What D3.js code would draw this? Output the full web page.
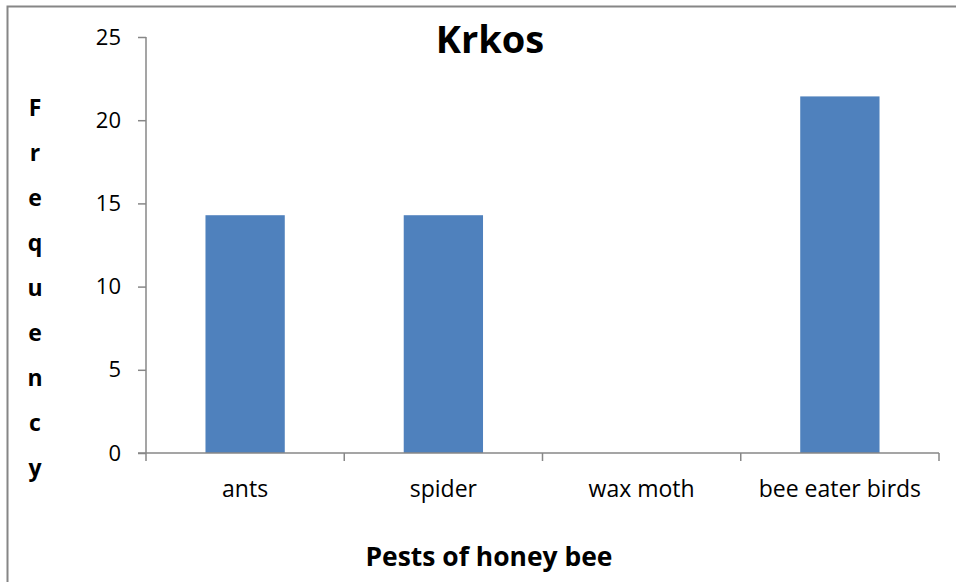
<!DOCTYPE html>
<html>
<head>
<meta charset="utf-8">
<script src="https://cdn.jsdelivr.net/npm/d3@7"></script>
<style>
  body { margin: 0; background: #fff; }
  text { font-family: "Open Sans", sans-serif; fill: #000; }
</style>
</head>
<body>
<div id="chart"></div>
<script>
var width = 956,
    height = 582

// data
var pests = ["ants", "spider", "wax moth", "bee eater birds"]
var frequency = [14.29, 14.29, 0, 21.43]
var yTicks = [0, 5, 10, 15, 20, 25]

var margin = {top: 37, right: 17, bottom: 129, left: 146}

var svg = d3.select("#chart")
  .append("svg")
    .attr("width", width)
    .attr("height", height)

// chart frame (only left and top edges are in view)
svg.append("path")
  .attr("d", "M7.5,582 V6.5 H956")
  .attr("fill", "none")
  .attr("stroke", "#868686")
  .attr("stroke-width", 2)

var x = d3.scaleBand()
  .domain(pests)
  .range([margin.left, width - margin.right])
  .paddingInner(0)

var y = d3.scaleLinear()
  .domain([0, 25])
  .range([height - margin.bottom, margin.top])

// bars
svg.selectAll("rect.bar")
  .data(pests)
  .enter()
  .append("rect")
    .attr("class", "bar")
    .attr("x", function(d) { return x(d) + x.bandwidth() * 0.3 })
    .attr("width", x.bandwidth() * 0.4)
    .attr("y", function(d, i) { return y(frequency[i]) })
    .attr("height", function(d, i) { return y(0) - y(frequency[i]) })
    .attr("fill", "#4f81bd")

// y axis
var yAxis = svg.append("g")
  .attr("transform", "translate(" + margin.left + ",0)")
  .call(d3.axisLeft(y).tickValues(yTicks).tickSize(8).tickPadding(17))
yAxis.selectAll("path, line").attr("stroke", "#878787").attr("stroke-width", 1.5)
yAxis.select(".domain").attr("d", "M0," + y(25) + "V" + y(0))
yAxis.selectAll("text")
  .style("font-family", "'Open Sans', sans-serif")
  .style("font-size", "22px")
  .attr("fill", "#000")

// x axis: line plus ticks on the category boundaries
svg.append("line")
  .attr("x1", margin.left - 8).attr("x2", width - margin.right)
  .attr("y1", y(0)).attr("y2", y(0))
  .attr("stroke", "#878787").attr("stroke-width", 1.5)

var bounds = pests.map(function(d) { return x(d) }).concat([x.range()[1]])
svg.selectAll("line.xtick")
  .data(bounds)
  .enter()
  .append("line")
    .attr("class", "xtick")
    .attr("x1", function(d) { return d }).attr("x2", function(d) { return d })
    .attr("y1", y(0)).attr("y2", y(0) + 8)
    .attr("stroke", "#878787").attr("stroke-width", 1.5)

svg.selectAll("text.xlab")
  .data(pests)
  .enter()
  .append("text")
    .attr("class", "xlab")
    .attr("x", function(d) { return x(d) + x.bandwidth() / 2 })
    .attr("y", 497)
    .attr("text-anchor", "middle")
    .style("font-size", "23px")
    .text(function(d) { return d })

// title
svg.append("text")
  .attr("x", 490)
  .attr("y", 53)
  .attr("text-anchor", "middle")
  .style("font-size", "38px")
  .style("font-weight", "bold")
  .text("Krkos")

// x axis title
svg.append("text")
  .attr("x", 489)
  .attr("y", 566)
  .attr("text-anchor", "middle")
  .attr("textLength", 247)
  .attr("lengthAdjust", "spacingAndGlyphs")
  .style("font-size", "27px")
  .style("font-weight", "bold")
  .text("Pests of honey bee")

// y axis title, stacked letters
svg.selectAll("text.ylab")
  .data("Frequency".split(""))
  .enter()
  .append("text")
    .attr("class", "ylab")
    .attr("x", 35)
    .attr("y", function(d, i) { return 116 + i * 45 })
    .attr("text-anchor", "middle")
    .style("font-size", "23px")
    .style("font-weight", "bold")
    .text(function(d) { return d })
</script>
</body>
</html>
